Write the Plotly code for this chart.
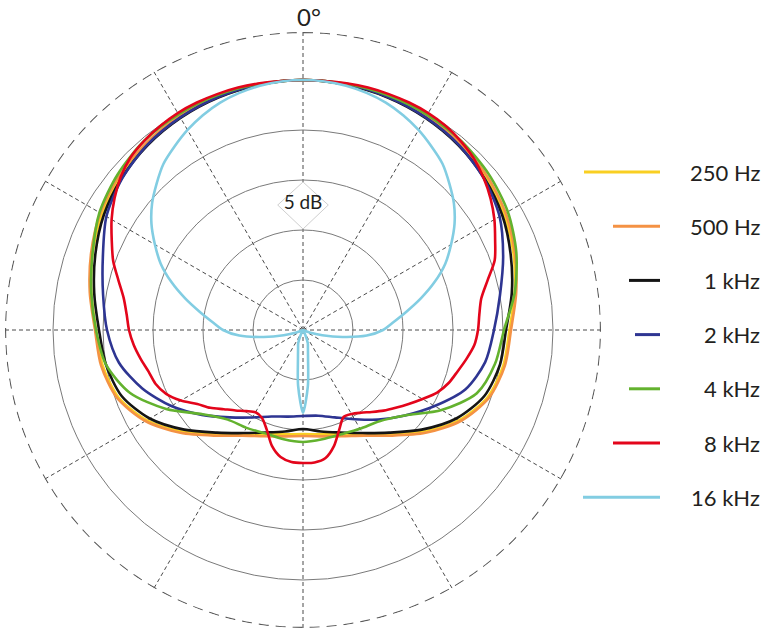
import plotly.graph_objects as go

# ---------------- data (dB, 0 dB on-axis; theta clockwise from top) ----------------
THETA_10 = list(range(0, 361, 10))
THETA_5 = list(range(0, 361, 5))

DB_250HZ = [0, -0.1, -0.2, -0.4, -0.7, -1.15, -1.8, -2.6, -3.5, -4.35, -4.65, -5.35, -6.95, -9.2, -11.4, -13.0, -13.9, -14.4, -14.6,
            -14.4, -13.9, -13.0, -11.4, -9.2, -6.95, -5.35, -4.65, -4.3, -3.5, -2.6, -1.8, -1.15, -0.7, -0.4, -0.2, -0.1, 0]
DB_500HZ = [0, -0.05, -0.15, -0.3, -0.6, -1.0, -1.6, -2.45, -3.35, -4.2, -4.5, -5.2, -6.8, -9.0, -11.2, -12.8, -13.7, -14.2, -14.4,
            -14.2, -13.7, -12.8, -11.2, -9.0, -6.8, -5.2, -4.5, -4.2, -3.35, -2.45, -1.6, -1.0, -0.6, -0.3, -0.15, -0.05, 0]
DB_1KHZ = [0, -0.1, -0.25, -0.5, -0.85, -1.35, -2.0, -2.9, -3.8, -4.7, -5.0, -5.7, -7.3, -9.5, -11.6, -13.1, -14.1, -14.7, -15.1,
           -14.7, -14.1, -13.1, -11.6, -9.5, -7.3, -5.7, -5.0, -4.6, -3.8, -2.9, -2.0, -1.35, -0.85, -0.5, -0.25, -0.1, 0]
DB_2KHZ = [0, -0.05, -0.2, -0.45, -0.8, -1.4, -2.3, -3.7, -5.0, -5.9, -6.5, -7.7, -9.8, -11.7, -13.3, -14.7, -15.7, -16.3, -16.4,
           -16.2, -15.8, -14.9, -13.6, -11.8, -9.8, -7.9, -6.3, -5.4, -4.7, -3.7, -2.3, -1.4, -0.8, -0.45, -0.2, -0.05, 0]
DB_4KHZ = [0, 0.0, -0.05, -0.15, -0.35, -0.75, -1.35, -2.3, -3.5, -4.9, -5.5, -6.5, -9.0, -11.7, -13.1, -13.6, -13.9, -13.9, -13.8,
           -13.9, -14.0, -13.7, -13.3, -11.9, -9.2, -6.6, -5.0, -4.3, -3.5, -2.6, -1.5, -0.8, -0.3, -0.1, 0.0, 0.0, 0]
DB_8KHZ = [0, 0, 0.05, 0.1, 0.1, 0.1, 0.05, -0.1, -0.4, -0.8, -1.4, -2.1, -2.9, -3.8, -4.6, -5.9, -6.9, -7.3, -7.5,
           -7.8, -8.4, -9.0, -9.5, -10.2, -11.2, -12.1, -12.9, -13.6, -14.3, -14.9, -15.3, -15.4, -14.4, -13.0, -12.0, -11.7, -11.7,
           -11.75, -12.1, -13.0, -14.4, -15.3, -15.5, -15.1, -14.5, -13.8, -12.9, -12.1, -10.9, -9.9, -9.3, -9.0, -8.5, -8.0,
           -7.6, -7.3, -6.8, -5.9, -4.8, -3.9, -2.9, -2.0, -1.2, -0.6, -0.3, -0.1, 0.05, 0.1, 0.1, 0.1, 0.05, 0, 0]
DB_16KHZ = [0, -0.05, -0.2, -0.45, -0.8, -1.3, -1.9, -2.6, -3.3, -4.3, -5.3, -6.5, -7.9, -9.3, -11.0, -12.8, -14.5, -15.9, -17.0,
            -18.6, -21.0, -23.0, -24.3, -25, -25, -25, -25, -25, -25, -25, -25, -24.4, -23.6, -23.1, -22.1, -19.4, -16.7,
            -19.4, -22.1, -23.1, -23.6, -24.4, -25, -25, -25, -25, -25, -25, -25, -25, -24.3, -23.0, -21.0, -18.6, -17.0,
            -15.9, -14.5, -12.8, -11.0, -9.3, -7.9, -6.5, -5.3, -4.3, -3.3, -2.6, -1.9, -1.3, -0.8, -0.45, -0.2, -0.05, 0]

SERIES_LABELS = ["250 Hz", "500 Hz", "1 kHz", "2 kHz", "4 kHz", "8 kHz", "16 kHz"]
SERIES_THETA = [THETA_10, THETA_10, THETA_10, THETA_10, THETA_10, THETA_5, THETA_5]
SERIES_DB = [DB_250HZ, DB_500HZ, DB_1KHZ, DB_2KHZ, DB_4KHZ, DB_8KHZ, DB_16KHZ]

RADIAL_RINGS = [-20, -15, -10, -5, 0]
SPOKES = list(range(0, 360, 30))
DB_MIN, DB_MAX = -25, 4.8

# ---------------- styles ----------------
COLORS = ["#F9CF22", "#F49244", "#141414", "#2E3592", "#63B22E", "#E3051B", "#82CDE2"]
LEGEND_LINE_START_PX = [584, 613, 629, 635, 629, 613, 583]
LEGEND_LINE_END_PX = 660
LEGEND_TEXT_RIGHT_PX = 762
LEGEND_TOP_PX = 172
LEGEND_STEP_PX = 54.2
FONT = "Lato, 'Open Sans', sans-serif"
TEXT_COLOR = "#231F20"

W, H = 768, 632
ML, MR, MT, MB = 5, 167, 32, 4
PW, PH = W - ML - MR, H - MT - MB


def px_to_paper_x(px):
    return (px - ML) / PW


def px_to_paper_y(py):
    return (H - MB - py) / PH


fig = go.Figure()

# "5 dB" scale badge (diamond between the -15 and -10 dB rings)
fig.add_trace(go.Scatterpolar(
    r=[-10.2, -12.25, -14.9, -12.25, -10.2],
    theta=[0, 11.44, 0, 348.56, 0],
    mode="lines", fill="toself", fillcolor="white",
    line=dict(color="#CFCFCF", width=1), hoverinfo="skip", showlegend=False))
fig.add_trace(go.Scatterpolar(
    r=[-12.45], theta=[0], mode="text", text=["5 dB"],
    textfont=dict(family=FONT, size=19, color=TEXT_COLOR),
    hoverinfo="skip", showlegend=False))

for lab, th, db, col in zip(SERIES_LABELS, SERIES_THETA, SERIES_DB, COLORS):
    fig.add_trace(go.Scatterpolar(
        r=db, theta=th, mode="lines", name=lab,
        line=dict(color=col, width=2.6, shape="spline", smoothing=0.8),
        showlegend=False))

# outer dashed boundary
fig.add_trace(go.Scatterpolar(
    r=[DB_MAX - 0.05] * 361, theta=list(range(0, 361)), mode="lines",
    line=dict(color="#5A5A5A", width=1.3, dash="10px,7px"),
    cliponaxis=False, hoverinfo="skip", showlegend=False))

shapes = []
annotations = []
for i, (lab, col) in enumerate(zip(SERIES_LABELS, COLORS)):
    y = px_to_paper_y(LEGEND_TOP_PX + i * LEGEND_STEP_PX)
    shapes.append(dict(type="line", xref="paper", yref="paper",
                       x0=px_to_paper_x(LEGEND_LINE_START_PX[i]), x1=px_to_paper_x(LEGEND_LINE_END_PX),
                       y0=y, y1=y, line=dict(color=col, width=3)))
    annotations.append(dict(text=lab, xref="paper", yref="paper",
                            x=px_to_paper_x(LEGEND_TEXT_RIGHT_PX), y=y,
                            xanchor="right", yanchor="middle", showarrow=False,
                            font=dict(family=FONT, size=22, color=TEXT_COLOR)))

annotations.append(dict(text="0°", xref="paper", yref="paper",
                        x=px_to_paper_x(309), y=px_to_paper_y(16),
                        xanchor="center", yanchor="middle", showarrow=False,
                        font=dict(family=FONT, size=24, color=TEXT_COLOR)))

fig.update_layout(
    width=W, height=H,
    margin=dict(l=ML, r=MR, t=MT, b=MB, pad=0),
    paper_bgcolor="white", plot_bgcolor="white",
    showlegend=False,
    shapes=shapes, annotations=annotations,
    polar=dict(
        domain=dict(x=[0, 1], y=[0, 1]),
        bgcolor="white",
        radialaxis=dict(range=[DB_MIN, DB_MAX], tickvals=RADIAL_RINGS, showticklabels=False,
                        ticks="", showline=False, gridcolor="#7A7A7A", gridwidth=0.9),
        angularaxis=dict(rotation=90, direction="clockwise", tickvals=SPOKES,
                         showticklabels=False, ticks="", showline=False,
                         gridcolor="#4A4A4A", gridwidth=1, griddash="4px,3px"),
    ),
)

fig.write_html("out.html", config={"displayModeBar": False},
               post_script="document.body.style.margin='0';document.body.style.overflow='hidden';")
